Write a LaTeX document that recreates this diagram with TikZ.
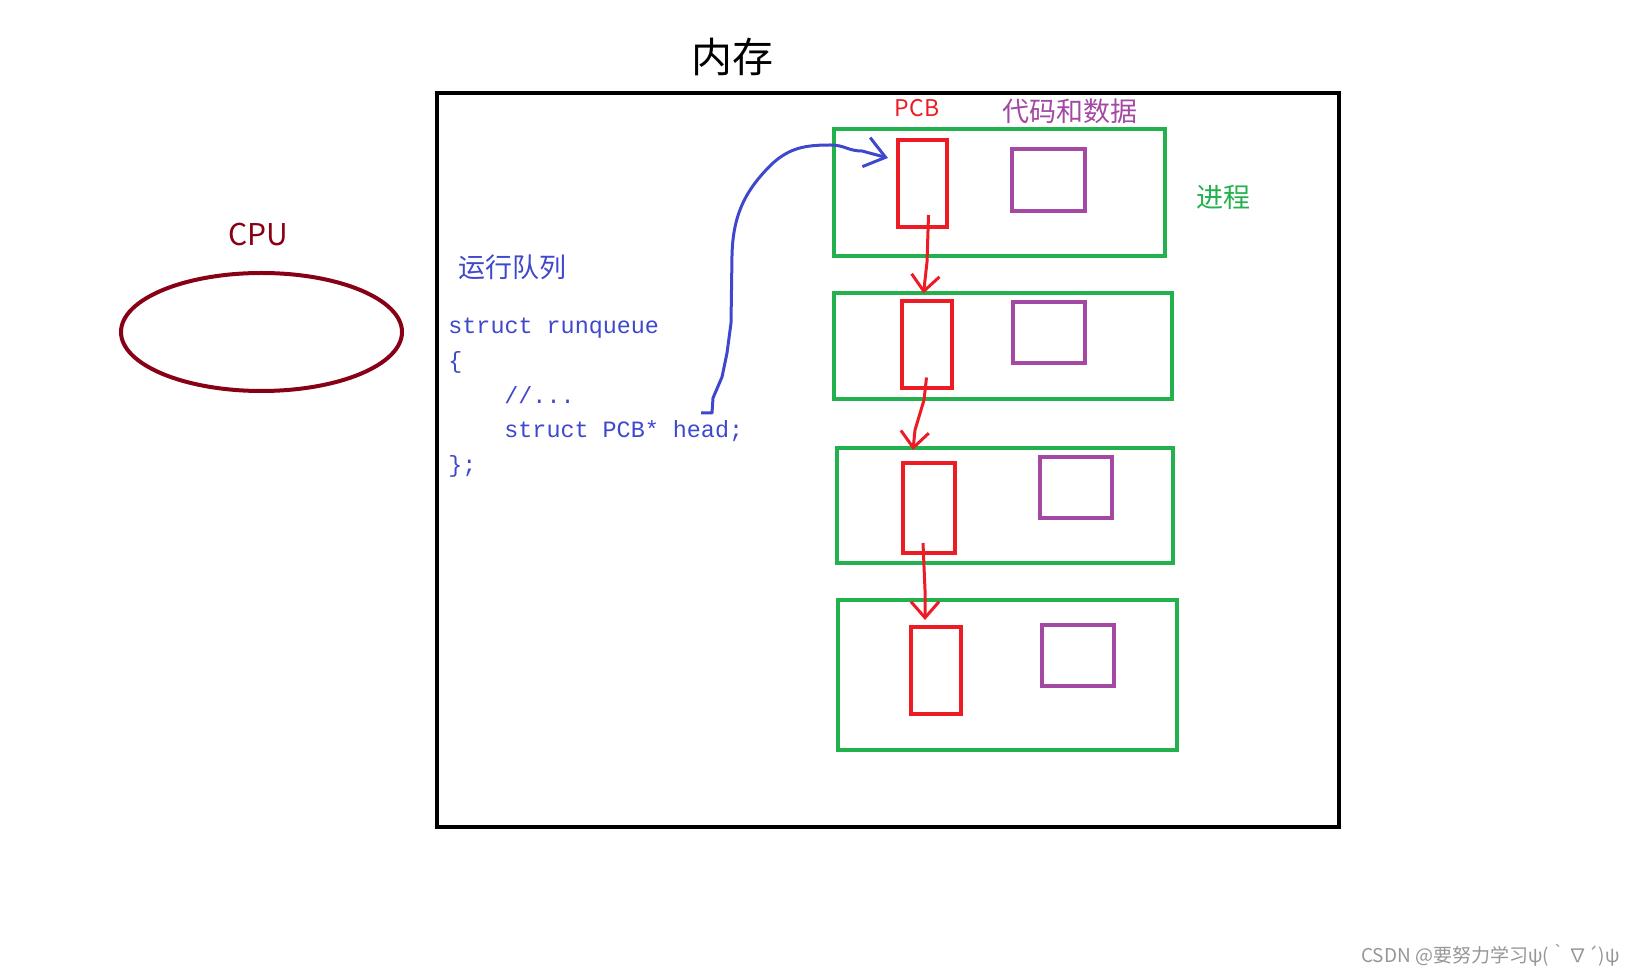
\documentclass[tikz,border=0pt]{standalone}
\usepackage{fontspec}
\setmainfont{Noto Sans CJK SC}
\setmonofont{Liberation Mono}
\usepackage{tikz}
\usetikzlibrary{shapes.geometric, arrows.meta, positioning}
\definecolor{cpured}{RGB}{136,0,21}
\definecolor{procgreen}{RGB}{34,177,76}
\definecolor{pcbred}{RGB}{237,28,36}
\definecolor{datapurple}{RGB}{163,73,164}
\definecolor{qblue}{RGB}{63,72,204}
\definecolor{wmgray}{RGB}{150,150,150}
\tikzset{
    memory/.style={
        rectangle,
        draw=black,
        line width=2pt,
        inner sep=0pt
    },
    cpu/.style={
        ellipse,
        draw=cpured,
        line width=2pt,
        inner sep=0pt,
        minimum width=140.5pt,
        minimum height=59pt
    },
    process/.style={
        rectangle,
        draw=procgreen,
        line width=2pt,
        inner sep=0pt
    },
    pcb/.style={
        rectangle,
        draw=pcbred,
        line width=2pt,
        inner sep=0pt,
        minimum width=25pt,
        minimum height=43.5pt
    },
    data/.style={
        rectangle,
        draw=datapurple,
        line width=2pt,
        inner sep=0pt,
        minimum width=36pt,
        minimum height=30.5pt
    },
    code/.style={
        anchor=base west,
        inner sep=0pt,
        text=qblue,
        font=\ttfamily\fontsize{11.7}{14}\selectfont
    },
    label/.style={
        inner sep=0pt,
        font=\fontsize{13.5}{16}\selectfont
    },
    ptr/.style={
        draw=qblue,
        line width=1.5pt,
        line join=round,
        -{Straight Barb[length=10pt,width=15pt]}
    },
    link/.style={
        draw=pcbred,
        line width=1.5pt,
        line join=round,
        -{Straight Barb[length=8pt,width=14pt]}
    }
}

\begin{document}
\begin{tikzpicture}[x=0.5pt, y=-0.5pt]
\useasboundingbox (0,0) rectangle (1636,977);

% CPU
\node[cpu] (cpu) at (261.5,332) {};
\node[label, text=cpured, font=\fontsize{15}{18}\selectfont] (cpulabel) at (258,235) {CPU};

% Memory
\node[memory, minimum width=451pt, minimum height=367pt] (mem) at (888,460) {};
\node[label, font=\fontsize{20.5}{24}\selectfont] (memlabel) at (732,57) {内存};

% Run queue
\node[label, text=qblue] (rqlabel) at (512,267) {运行队列};
\node[code] (rq1) at (448,334) {struct runqueue};
\node[code] (rq2) at (448,369) {\{};
\node[code] (rq3) at (504,404) {//...};
\node[code] (rq4) at (504,438) {struct PCB* head;};
\node[code] (rq5) at (448,473) {\};};

% Processes
\node[process, minimum width=165.5pt, minimum height=63.5pt] (proc1) at (999.5,192.5) {};
\node[process, minimum width=169pt, minimum height=53pt] (proc2) at (1003,346) {};
\node[process, minimum width=168pt, minimum height=57.5pt] (proc3) at (1005,505.5) {};
\node[process, minimum width=169.5pt, minimum height=75pt] (proc4) at (1007.5,675) {};

\node[pcb, minimum width=24.5pt] (pcb1) at (922.5,183.5) {};
\node[pcb] (pcb2) at (926.5,345) {};
\node[pcb, minimum width=26pt, minimum height=45pt] (pcb3) at (929,508) {};
\node[pcb] (pcb4) at (936,670.5) {};

\node[data, minimum width=36.5pt, minimum height=31pt] (data1) at (1048.5,180) {};
\node[data] (data2) at (1049,333) {};
\node[data] (data3) at (1076,488) {};
\node[data] (data4) at (1078,655) {};

\node[label, text=pcbred, font=\fontsize{11.5}{14}\selectfont] (pcblabel) at (917,108) {PCB};
\node[label, text=datapurple] (datalabel) at (1070,111) {代码和数据};
\node[label, text=procgreen, right=14.5pt of proc1, yshift=-2.5pt] (proclabel) {进程};

% Links
\coordinate (headtail) at (701,413);
\draw[ptr] (headtail) -- (712,413) -- (713,398) -- (722,377) -- (727,353) -- (731,323) -- (732,255)
    .. controls (733,215) and (745,190) .. (773,163)
    .. controls (790,148) and (805,145) .. (830,145)
    .. controls (845,145) and (848,151) .. (862,151)
    -- ([shift={(-8,20)}]pcb1.north west);
\draw[link] ([shift={(6,-14)}]pcb1.south) -- (927,262) -- ([shift={(-3,-6)}]pcb2.north);
\draw[link] ([shift={(0,-13)}]pcb2.south) -- (924,400) -- (915,430) -- ([shift={(-16,-11)}]pcb3.north);
\draw[link] ([shift={(-6,-12)}]pcb3.south) -- (925,590) -- ([shift={(-11,-5)}]pcb4.north);

% Watermark
\node[inner sep=0pt, anchor=east, text=wmgray, font=\fontsize{9.5}{11}\selectfont] (wm) at (1620,955) {CSDN @要努力学习ψ(｀∇´)ψ};

\end{tikzpicture}
\end{document}
